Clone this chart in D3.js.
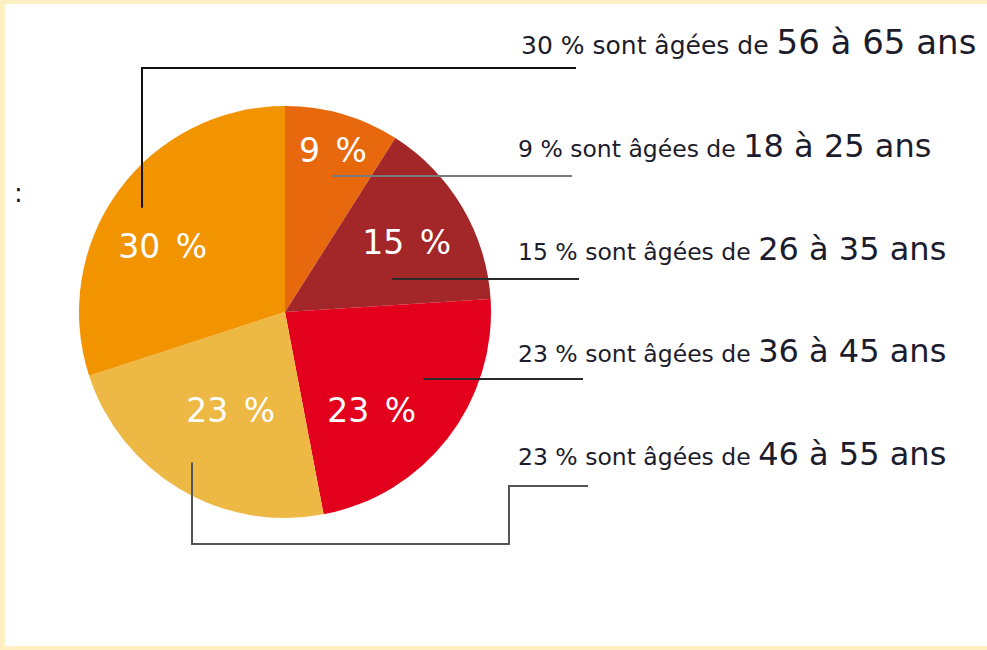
<!DOCTYPE html>
<html>
<head>
<meta charset="utf-8">
<script src="https://cdn.jsdelivr.net/npm/d3@7"></script>
<style>
  body { margin: 0; background: #fff; }
  svg { display: block; }
  text { font-family: "DejaVu Sans", Verdana, sans-serif; }
</style>
</head>
<body>
<svg width="987" height="650"></svg>
<script>
// slices in drawing order, clockwise from 12 o'clock
var ageGroups = ["18 à 25 ans", "26 à 35 ans", "36 à 45 ans", "46 à 55 ans", "56 à 65 ans"];
var shares = [9, 15, 23, 23, 30];
var sliceColors = ["#E8680E", "#A32628", "#E2001C", "#EDB944", "#F29400"];
// order of the labels on the right, top to bottom
var legendOrder = [4, 0, 1, 2, 3];

var svg = d3.select("svg"),
    width = +svg.attr("width"),
    height = +svg.attr("height");

// pale yellow frame (left, top, bottom)
svg.append("rect").attr("width", width).attr("height", height).attr("fill", "#FFF0C4");
svg.append("rect").attr("x", 5).attr("y", 4).attr("width", width - 5).attr("height", height - 8).attr("fill", "#fff");

svg.append("text")
    .attr("x", 14).attr("y", 202)
    .attr("font-size", 26).attr("fill", "#1c1c2c")
    .text(":");

var cx = 285, cy = 312, r = 206;

var pie = d3.pie().sort(null).value(function(d) { return d; });
var arcs = pie(shares);
var arc = d3.arc().innerRadius(0).outerRadius(r);

var g = svg.append("g").attr("transform", "translate(" + cx + "," + cy + ")");

g.selectAll("path.slice")
    .data(arcs)
    .enter().append("path")
    .attr("class", "slice")
    .attr("d", arc)
    .attr("fill", function(d, i) { return sliceColors[i]; });

// point inside a slice: fraction of its angle, fraction of the radius
function inside(d, f, k) {
    var a = d.startAngle + f * (d.endAngle - d.startAngle);
    return [Math.sin(a) * r * k, -Math.cos(a) * r * k];
}

var labelPlace = [[0.51, 0.82], [0.515, 0.68], [0.63, 0.635], [0.48, 0.545], [0.43, 0.675]];

g.selectAll("text.pct")
    .data(arcs)
    .enter().append("text")
    .attr("class", "pct")
    .attr("transform", function(d, i) {
        var p = inside(d, labelPlace[i][0], labelPlace[i][1]);
        return "translate(" + p[0] + "," + p[1] + ")";
    })
    .attr("text-anchor", "middle")
    .attr("dy", "0.36em")
    .attr("font-size", 33)
    .attr("word-spacing", 5)
    .attr("fill", "#fff")
    .text(function(d) { return d.data + " %"; });

// right-hand labels
var rowY = d3.scalePoint().domain(legendOrder).range([54, 465]);
var textX = 518;

var labels = svg.append("g").selectAll("text")
    .data(legendOrder)
    .enter().append("text")
    .attr("x", function(d, i) { return i == 0 ? textX + 3 : textX; })
    .attr("y", function(d) { return rowY(d); })
    .attr("fill", "#1c1c2c");

labels.append("tspan")
    .attr("font-size", function(d, i) { return i == 0 ? 25 : 23.5; })
    .text(function(d) { return shares[d] + " % sont âgées de "; });
labels.append("tspan")
    .attr("font-size", function(d, i) { return i == 0 ? 34 : 32; })
    .text(function(d) { return ageGroups[d]; });

// leader lines
var anchorPlace = [[0.59, 0.7], [0.75, 0.545], [0.356, 0.745], [0.515, 0.86], [0.5, 0.86]];
var lineColors = ["#7a7a7a", "#2a2a2a", "#2a2a2a", "#555", "#111"];
var lineEnds = [572, 579, 583, 588, 576];

function anchor(i) {
    var p = inside(arcs[i], anchorPlace[i][0], anchorPlace[i][1]);
    return [cx + p[0], cy + p[1]];
}

var leaders = svg.append("g").attr("fill", "none").attr("stroke-width", 2);

// 18-25, 26-35, 36-45: straight to the right
[0, 1, 2].forEach(function(i) {
    var a = anchor(i), y = Math.round(a[1]);
    leaders.append("path")
        .attr("stroke", lineColors[i])
        .attr("d", d3.line()([[a[0], y], [lineEnds[i], y]]));
});

// 46-55: down, right, up, right
(function() {
    var a = anchor(3), x = Math.round(a[0]);
    var yLow = 544, yRow = rowY(3) + 21, xStep = 509;
    leaders.append("path")
        .attr("stroke", lineColors[3])
        .attr("d", d3.line()([[x, a[1]], [x, yLow], [xStep, yLow], [xStep, yRow], [lineEnds[3], yRow]]));
})();

// 56-65: up, then right
(function() {
    var a = anchor(4), x = Math.round(a[0]);
    var yTop = rowY(4) + 14;
    leaders.append("path")
        .attr("stroke", lineColors[4])
        .attr("d", d3.line()([[x, a[1]], [x, yTop], [lineEnds[4], yTop]]));
})();
</script>
</body>
</html>
